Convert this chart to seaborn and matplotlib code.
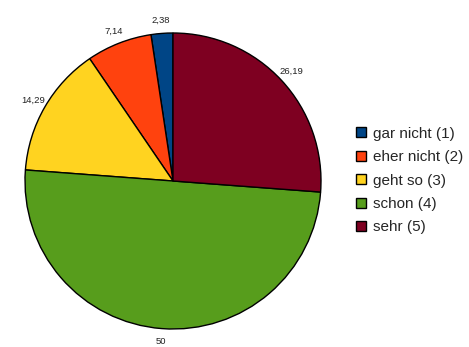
import matplotlib
matplotlib.use("Agg")
import matplotlib.pyplot as plt
import seaborn as sns
from matplotlib.patches import Patch

categories = ["gar nicht (1)", "eher nicht (2)", "geht so (3)", "schon (4)", "sehr (5)"]
values = [2.38, 7.14, 14.29, 50, 26.19]
value_labels = ["2,38", "7,14", "14,29", "50", "26,19"]
colors = ["#004586", "#FF420E", "#FFD320", "#579D1C", "#7E0021"]

sns.set_theme(style="white")
plt.rcParams['font.family'] = ['Liberation Sans', 'DejaVu Sans']

fig = plt.figure(figsize=(4.69, 3.47), dpi=100)
ax = fig.add_axes([25/469, 18/347, 296/469, 296/347])
wedges, texts = ax.pie(values, labels=value_labels, colors=colors, startangle=90,
                       counterclock=True, labeldistance=1.09,
                       wedgeprops=dict(edgecolor="black", linewidth=1.0),
                       textprops=dict(fontsize=6.8, color="#222222"))
for t in texts:
    t.set_ha("center")
    t.set_va("center")
ax.set_xlim(-1, 1)
ax.set_ylim(-1, 1)
ax.set_aspect("auto")
ax.axis("off")

handles = [Patch(facecolor=c, edgecolor="black", linewidth=1.0) for c in colors]
fig.legend(handles, categories, loc="center left", bbox_to_anchor=(356/469, 1 - 180.5/347),
           frameon=False, fontsize=11, handlelength=0.65, handleheight=0.65,
           handletextpad=0.46, labelspacing=0.62, borderaxespad=0, borderpad=0)

fig.savefig("out.png", dpi=100)
